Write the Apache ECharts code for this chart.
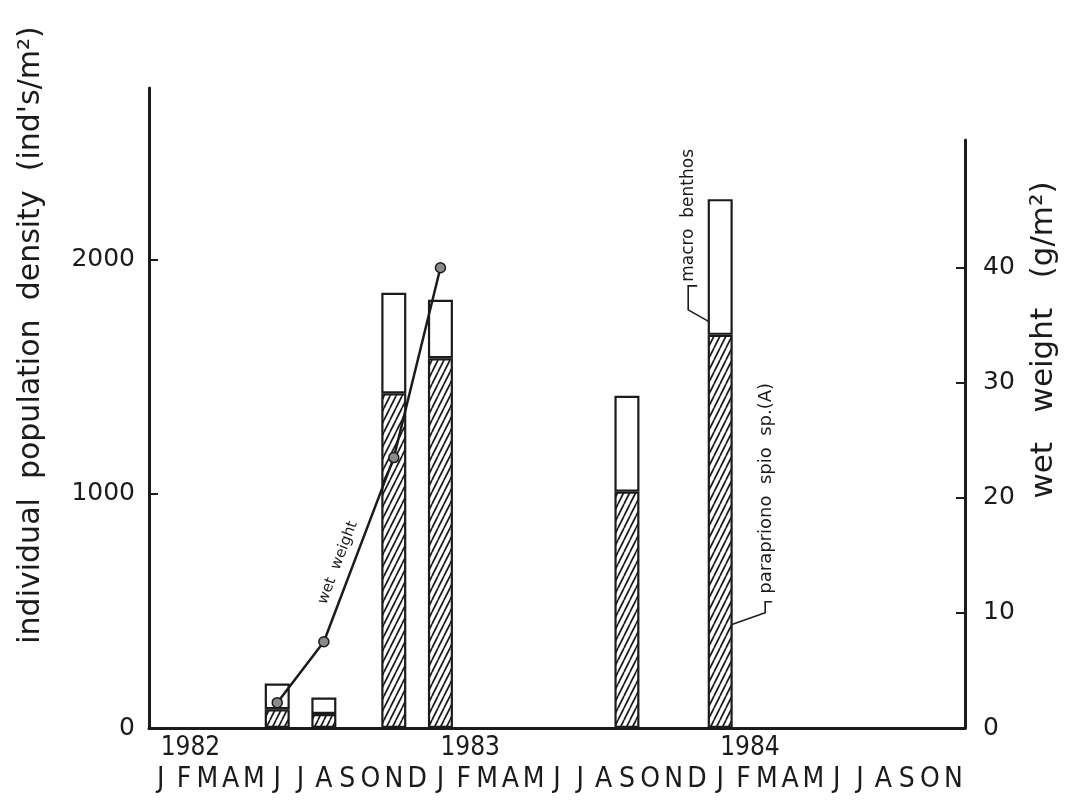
<!DOCTYPE html>
<html>
<head>
<meta charset="utf-8">
<script src="https://cdn.jsdelivr.net/npm/echarts@6/dist/echarts.min.js"></script>
<style>
  html, body { margin: 0; background: #fff; }
  #chart { width: 1066px; height: 806px; }
</style>
</head>
<body>
<div id="chart"></div>
<script>
// months on the x axis: Jan 1982 .. Nov 1984
const years = ['1982', '1983', '1984']
const monthLetters = ['J', 'F', 'M', 'A', 'M', 'J', 'J', 'A', 'S', 'O', 'N', 'D']
const monthCount = 35

// sampling months of the bars
const sampleMonths = ['1982-06', '1982-08', '1982-11', '1983-01', '1983-09', '1984-01']
// ind's/m2, total macro benthos and Paraprionospio sp.(A)
const macroBenthos = [190, 130, 1860, 1830, 1420, 2260]
const paraprionospio = [80, 60, 1430, 1580, 1010, 1680]

// wet weight g/m2
const wetMonths = ['1982-06', '1982-08', '1982-11', '1983-01']
const wetWeight = [2.2, 7.5, 23.5, 40]

const leftTicks = [0, 1000, 2000]
const rightTicks = [0, 10, 20, 30, 40]

const categories = []
years.forEach(y => {
  monthLetters.forEach((m, i) => {
    if (categories.length < monthCount) categories.push(y + '-' + String(i + 1).padStart(2, '0'))
  })
})

const ink = '#1b1b1b'
const font = 'DejaVu Sans'
const narrow = '"DejaVu Sans Condensed", "DejaVu Sans"'

// diagonal hatching for the Paraprionospio part
function hatch () {
  const c = document.createElement('canvas')
  c.width = 6
  c.height = 12
  const ctx = c.getContext('2d')
  ctx.fillStyle = '#fff'
  ctx.fillRect(0, 0, 6, 12)
  ctx.strokeStyle = '#1b1b1b'
  ctx.lineWidth = 1.7
  for (const x0 of [-6, 0, 6]) {
    ctx.beginPath()
    ctx.moveTo(x0, 12)
    ctx.lineTo(x0 + 6, 0)
    ctx.stroke()
  }
  return c
}

const chart = echarts.init(document.getElementById('chart'))

const option = {
  backgroundColor: '#fff',
  animation: false,
  grid: [
    { left: 149, right: 101, top: 88, bottom: 78 },
    { left: 149, right: 101, top: 140, bottom: 78 }
  ],
  xAxis: [
    {
      gridIndex: 0,
      type: 'category',
      data: categories,
      axisLine: { lineStyle: { color: ink, width: 3 } },
      axisTick: { show: false },
      axisLabel: {
        interval: 0,
        margin: 38,
        fontSize: 28,
        fontFamily: narrow,
        color: ink,
        formatter: v => monthLetters[+v.slice(5) - 1]
      }
    },
    {
      gridIndex: 0,
      type: 'category',
      data: categories,
      position: 'bottom',
      axisLine: { show: false },
      axisTick: { show: false },
      axisLabel: {
        interval: 0,
        margin: 7,
        align: 'left',
        fontSize: 26,
        fontFamily: narrow,
        color: ink,
        formatter: v => v.endsWith('-01') ? v.slice(0, 4) : ''
      }
    },
    { gridIndex: 1, type: 'category', data: categories, show: false }
  ],
  yAxis: [
    {
      gridIndex: 0,
      type: 'value',
      position: 'left',
      min: 0,
      max: 2735,
      splitLine: { show: false },
      axisLine: { show: true, lineStyle: { color: ink, width: 3 } },
      axisTick: { show: true, inside: true, length: 9, customValues: [1000, 2000], lineStyle: { color: ink, width: 2 } },
      axisLabel: { customValues: leftTicks, margin: 14, fontSize: 25, fontFamily: font, color: ink, formatter: v => String(v) }
    },
    {
      gridIndex: 1,
      type: 'value',
      position: 'right',
      min: 0,
      max: 51.1,
      splitLine: { show: false },
      axisLine: { show: true, lineStyle: { color: ink, width: 3 } },
      axisTick: { show: true, inside: true, length: 9, customValues: [10, 20, 30, 40], lineStyle: { color: ink, width: 2 } },
      axisLabel: { customValues: rightTicks, margin: 18, fontSize: 25, fontFamily: font, color: ink, formatter: v => String(v) }
    }
  ],
  series: [
    {
      name: 'parapriono spio sp.(A)',
      type: 'bar',
      xAxisIndex: 0,
      yAxisIndex: 0,
      stack: 'density',
      barWidth: 25,
      itemStyle: { color: { image: hatch(), repeat: 'repeat' }, borderColor: ink, borderWidth: 2.2 },
      data: sampleMonths.map((m, i) => [m, paraprionospio[i]])
    },
    {
      name: 'macro benthos',
      type: 'bar',
      xAxisIndex: 0,
      yAxisIndex: 0,
      stack: 'density',
      barWidth: 25,
      itemStyle: { color: '#fff', borderColor: ink, borderWidth: 2.2 },
      data: sampleMonths.map((m, i) => [m, macroBenthos[i] - paraprionospio[i]])
    },
    {
      name: 'wet weight',
      type: 'line',
      xAxisIndex: 2,
      yAxisIndex: 1,
      symbol: 'circle',
      symbolSize: 10,
      lineStyle: { color: ink, width: 2.5 },
      itemStyle: { color: '#8a8a8a', borderColor: ink, borderWidth: 1.5 },
      z: 5,
      data: wetMonths.map((m, i) => [m, wetWeight[i]])
    }
  ]
}

chart.setOption(option)

// annotations placed from data coordinates
const px = (m, v) => chart.convertToPixel({ xAxisIndex: 0, yAxisIndex: 0 }, [categories.indexOf(m), v])
const pw = (m, v) => chart.convertToPixel({ xAxisIndex: 2, yAxisIndex: 1 }, [categories.indexOf(m), v])

const d2 = pw(wetMonths[1], wetWeight[1])
const d3 = pw(wetMonths[2], wetWeight[2])
const ang = Math.atan2(d2[1] - d3[1], d3[0] - d2[0])
const len = Math.hypot(d3[0] - d2[0], d3[1] - d2[1])
const ux = (d3[0] - d2[0]) / len
const uy = (d3[1] - d2[1]) / len
const wx = d2[0] + ux * len * 0.4 + uy * 15
const wy = d2[1] + uy * len * 0.4 - ux * 15

const mb = px('1984-01', 1740)
const pp = px('1984-01', 450)

const lineStyle = { stroke: ink, lineWidth: 1.6, fill: null }

chart.setOption({
  graphic: [
    {
      type: 'text', x: 31, y: 335, rotation: Math.PI / 2,
      style: { text: "individual  population  density  (ind's/m²)", fontSize: 30, fontFamily: font, fill: ink, align: 'center', verticalAlign: 'middle' }
    },
    {
      type: 'text', x: 1044, y: 340, rotation: Math.PI / 2,
      style: { text: 'wet   weight   (g/m²)', fontSize: 31, fontFamily: font, fill: ink, align: 'center', verticalAlign: 'middle' }
    },
    {
      type: 'text', x: wx, y: wy, rotation: ang,
      style: { text: 'wet  weight', fontSize: 15, fontFamily: font, fill: ink, align: 'center', verticalAlign: 'middle' }
    },
    {
      type: 'polyline',
      shape: { points: [[mb[0] - 2, mb[1] + 6], [mb[0] - 32, mb[1] - 11], [mb[0] - 32, mb[1] - 35], [mb[0] - 23, mb[1] - 35]] },
      style: lineStyle
    },
    {
      type: 'text', x: mb[0] - 32, y: mb[1] - 39, rotation: Math.PI / 2,
      style: { text: 'macro  benthos', fontSize: 17, fontFamily: font, fill: ink, align: 'left', verticalAlign: 'middle' }
    },
    {
      type: 'polyline',
      shape: { points: [[pp[0] + 11, pp[1] + 2], [pp[0] + 45, pp[1] - 10], [pp[0] + 45, pp[1] - 21], [pp[0] + 52, pp[1] - 21]] },
      style: lineStyle
    },
    {
      type: 'text', x: pp[0] + 46, y: pp[1] - 29, rotation: Math.PI / 2,
      style: { text: 'parapriono  spio  sp.(A)', fontSize: 18, fontFamily: font, fill: ink, align: 'left', verticalAlign: 'middle' }
    }
  ]
})
</script>
</body>
</html>
